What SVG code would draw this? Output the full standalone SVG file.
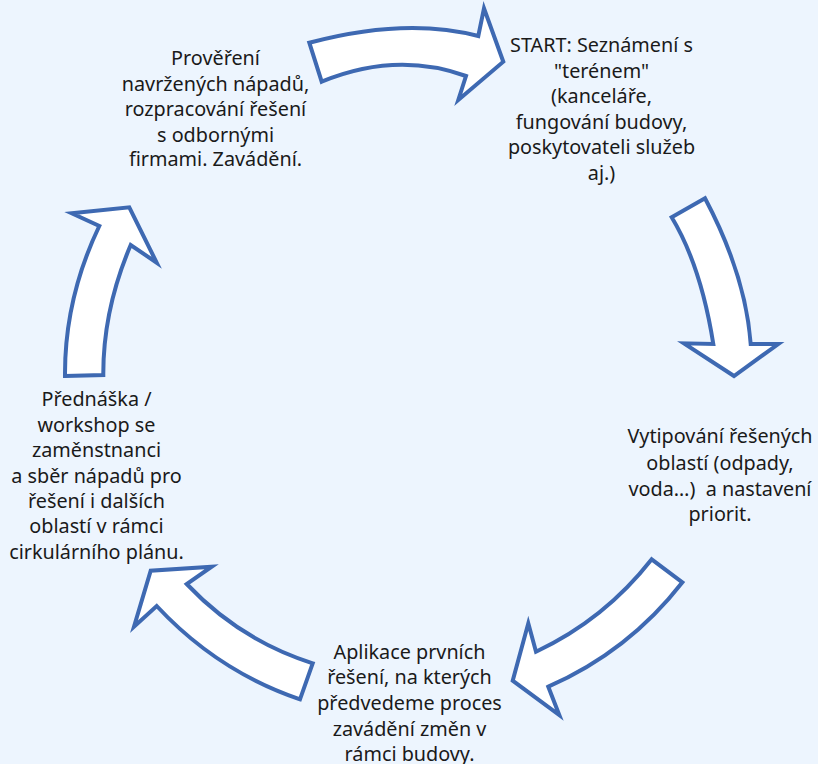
<svg xmlns="http://www.w3.org/2000/svg" width="818" height="764" viewBox="0 0 818 764">
<style>
.bg{fill:#EDF5FE}
.arr{fill:#FFFFFF;stroke:#3E69B2;stroke-width:4;stroke-linejoin:miter;stroke-miterlimit:10}
text{font-family:"Noto Sans","Open Sans","DejaVu Sans",sans-serif;font-size:19.8px;fill:#1A1A1A;text-anchor:middle}
</style>
<rect class="bg" x="0" y="0" width="818" height="764"/>
<g id="connectors">
<path id="arrow1" class="arr" d="M309.3,42.7 Q406,17 478.3,36 L484,8.3 L503.3,61.7 L458.3,100 L466,76 Q396,51 321.7,81.7 Z"/>
<path id="arrow2" class="arr" d="M671.7,217.3 L705,198.3 Q745.6,275 750.7,344 L778.3,344 L734,376 L684,343.3 L713.3,344 Q701,266 671.7,217.3 Z"/>
<path id="arrow3" class="arr" d="M651.7,559.3 L682.4,582.3 Q628.6,651.5 548.3,686.7 L559.3,715 L512.7,680.7 L528.3,623.3 L536,651.7 Q604.2,619.9 651.7,559.3 Z"/>
<path id="arrow4" class="arr" d="M312.7,663.3 L300,699.3 Q217.6,671.4 156.7,606 L134,626.7 L150.7,570.7 L211.7,566.7 L186.7,584 Q240.1,640.4 312.7,663.3 Z"/>
<path id="arrow5" class="arr" d="M65,376 L103.3,375 Q103,310 130.7,245 L156.7,262.7 L129.3,207.3 L71.7,213.3 L99.3,226 Q64.4,299 65,376 Z"/>
</g>
<g id="node-start">
<text x="601.5" y="51.8">START: Seznámení s</text>
<text x="601.5" y="77.7">"terénem"</text>
<text x="601.5" y="103">(kanceláře,</text>
<text x="601.5" y="128.8">fungování budovy,</text>
<text x="601.5" y="154.2">poskytovateli služeb</text>
<text x="601.5" y="180">aj.)</text>
</g>
<g id="node-vytipovani">
<text x="720" y="443.2">Vytipování řešených</text>
<text x="720" y="470">oblastí (odpady,</text>
<text x="720" y="495.8" xml:space="preserve">voda…)  a nastavení</text>
<text x="720" y="521">priorit.</text>
</g>
<g id="node-aplikace">
<text x="409.5" y="659">Aplikace prvních</text>
<text x="409.5" y="684.4">řešení, na kterých</text>
<text x="409.5" y="710.2">předvedeme proces</text>
<text x="409.5" y="735.6">zavádění změn v</text>
<text x="409.5" y="760.9">rámci budovy.</text>
</g>
<g id="node-prednaska">
<text x="96.5" y="405.6">Přednáška /</text>
<text x="96.5" y="432.4">workshop se</text>
<text x="96.5" y="456.8">zaměnstnanci</text>
<text x="96.5" y="483.1">a sběr nápadů pro</text>
<text x="96.5" y="508">řešení i dalších</text>
<text x="96.5" y="533.3">oblastí v rámci</text>
<text x="96.5" y="559.1">cirkulárního plánu.</text>
</g>
<g id="node-provereni">
<text x="215.5" y="64.5">Prověření</text>
<text x="215.5" y="90.8">navržených nápadů,</text>
<text x="215.5" y="116.2">rozpracování řešení</text>
<text x="215.5" y="142">s odbornými</text>
<text x="215.5" y="166.4">firmami. Zavádění.</text>
</g>
</svg>
